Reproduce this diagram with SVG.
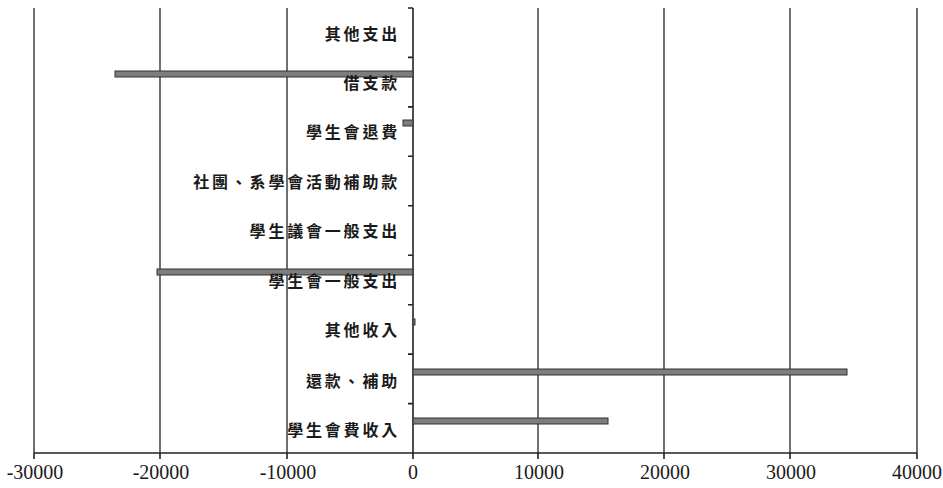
<svg xmlns="http://www.w3.org/2000/svg" width="943" height="488" viewBox="0 0 943 488">
<style>
.grid{stroke:#222;stroke-width:1.3;fill:none}
.axis{stroke:#222;stroke-width:1.6;fill:none}
.bar{fill:#7d7d7d;stroke:#333;stroke-width:1}
.cat{font-family:"Noto Sans CJK TC","Noto Sans CJK SC",sans-serif;font-weight:bold;font-size:16px;letter-spacing:2.8px;fill:#1a1a1a;text-anchor:end}
.num{font-family:"Liberation Serif",serif;font-size:20px;fill:#1a1a1a;text-anchor:middle}
</style>
<rect width="943" height="488" fill="#ffffff"/>
<g id="gridlines">
<line class="grid" x1="34" y1="8" x2="34" y2="453"/>
<line class="grid" x1="160" y1="8" x2="160" y2="453"/>
<line class="grid" x1="287" y1="8" x2="287" y2="453"/>
<line class="grid" x1="538" y1="8" x2="538" y2="453"/>
<line class="grid" x1="664" y1="8" x2="664" y2="453"/>
<line class="grid" x1="790" y1="8" x2="790" y2="453"/>
<line class="grid" x1="917" y1="8" x2="917" y2="453"/>
</g>
<g id="axes">
<line class="axis" x1="413" y1="8" x2="413" y2="453"/>
<line class="axis" x1="34" y1="453" x2="917" y2="453"/>
<path class="axis" d="M408 8H413M408 57.4H413M408 106.9H413M408 156.3H413M408 205.8H413M408 255.2H413M408 304.7H413M408 354.1H413M408 403.6H413"/>
<path class="axis" d="M34 453V459M160 453V459M287 453V459M413 453V459M538 453V459M664 453V459M790 453V459M917 453V459"/>
</g>
<g id="bars">
<rect class="bar" x="115" y="71" width="298" height="6"/>
<rect class="bar" x="403" y="120" width="10" height="6"/>
<rect class="bar" x="157" y="269" width="256" height="6"/>
<rect class="bar" x="413" y="319" width="2" height="6"/>
<rect class="bar" x="413" y="369" width="434" height="6"/>
<rect class="bar" x="413" y="418" width="195" height="6"/>
</g>
<g id="category-labels">
<text class="cat" x="400" y="40">其他支出</text>
<text class="cat" x="400" y="89">借支款</text>
<text class="cat" x="400" y="138">學生會退費</text>
<text class="cat" x="400" y="188">社團、系學會活動補助款</text>
<text class="cat" x="400" y="237">學生議會一般支出</text>
<text class="cat" x="400" y="287">學生會一般支出</text>
<text class="cat" x="400" y="336">其他收入</text>
<text class="cat" x="400" y="387">還款、補助</text>
<text class="cat" x="400" y="436">學生會費收入</text>
</g>
<g id="value-labels">
<text class="num" x="35" y="479">-30000</text>
<text class="num" x="161" y="479">-20000</text>
<text class="num" x="288" y="479">-10000</text>
<text class="num" x="413" y="479">0</text>
<text class="num" x="539" y="479">10000</text>
<text class="num" x="665" y="479">20000</text>
<text class="num" x="791" y="479">30000</text>
<text class="num" x="917" y="479">40000</text>
</g>
</svg>
